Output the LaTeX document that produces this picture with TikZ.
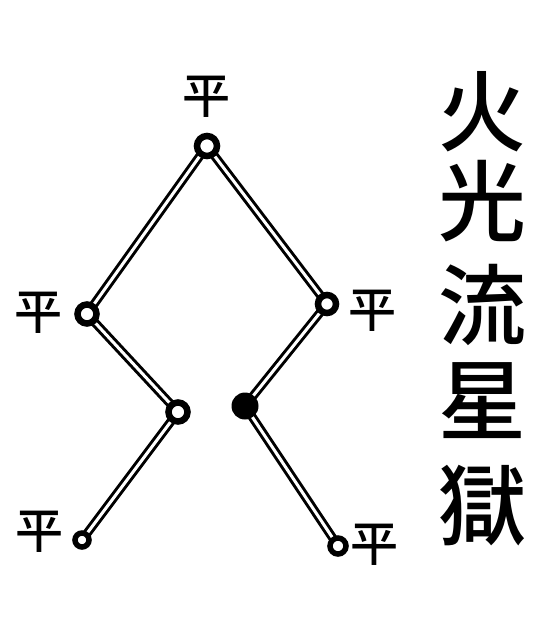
\documentclass[tikz,border=0pt]{standalone}
\usepackage{fontspec}
\newfontfamily\cjk{Noto Sans CJK JP Medium}
\usetikzlibrary{backgrounds}
\begin{document}
\begin{tikzpicture}[x=1pt,y=-1pt,
  ring/.style={circle,draw=black,fill=white,inner sep=0pt},
  bigring/.style={ring,line width=6.5pt,minimum size=20pt},
  smallring/.style={ring,line width=5.5pt,minimum size=14pt},
  blob/.style={circle,fill=black,inner sep=0pt,minimum size=27pt},
  dbl/.style={draw=black,line width=3pt,double=white,double distance=3pt},
  ping/.style={font=\cjk\fontsize{48}{48}\selectfont,inner sep=0pt},
  title/.style={font=\cjk\fontsize{88}{88}\selectfont,inner sep=0pt}]
\useasboundingbox (0,0) rectangle (547,633);
% joints
\node[bigring] (t) at (207,146) {};
\node[bigring,minimum size=19pt] (l) at (87,314) {};
\node[bigring,minimum size=19pt] (ml) at (178,412) {};
\node[blob] (mr) at (245,406) {};
\node[bigring,minimum size=18pt] (r) at (327,304) {};
\node[smallring] (bl) at (82,540) {};
\node[smallring,minimum size=16pt] (br) at (338,546) {};
% labels
\node[ping] (lt) at (206,97) {平};
\node[ping] (ll) at (38,313) {平};
\node[ping] (lr) at (372,311) {平};
\node[ping] (lbl) at (40,532) {平};
\node[ping] (lbr) at (374,545) {平};
% title
\node[title] (c1) at (482,112) {火};
\node[title] (c2) at (482,201) {光};
\node[title] (c3) at (482,305) {流};
\node[title] (c4) at (482,401) {星};
\node[title] (c5) at (482,506) {獄};
% connectors
\begin{pgfonlayer}{background}
\draw[dbl] (t.center) -- (l.center);
\draw[dbl] (t.center) -- (r.center);
\draw[dbl] (l.center) -- (ml.center);
\draw[dbl] (ml.center) -- (bl.center);
\draw[dbl] (r.center) -- (mr.center);
\draw[dbl] (mr.center) -- (br.center);
\end{pgfonlayer}
\end{tikzpicture}
\end{document}
